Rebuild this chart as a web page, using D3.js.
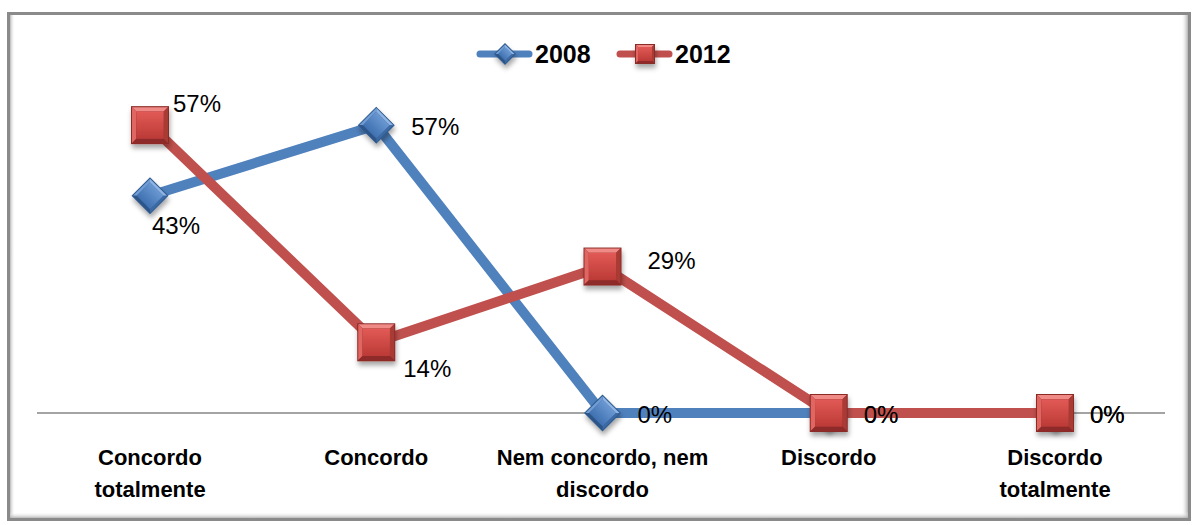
<!DOCTYPE html>
<html>
<head>
<meta charset="utf-8">
<script src="https://cdn.jsdelivr.net/npm/d3@7"></script>
<style>
  html, body { margin: 0; padding: 0; background: #fff; }
  svg { display: block; }
  text { font-family: "Liberation Sans", Arial, sans-serif; }
</style>
</head>
<body>
<svg id="chart" width="1194" height="525"></svg>
<script>
// Survey answers (share of respondents) per year
const categories = [
  ["Concordo", "totalmente"],
  ["Concordo"],
  ["Nem concordo, nem", "discordo"],
  ["Discordo"],
  ["Discordo", "totalmente"]
];
const seriesNames = ["2008", "2012"];
const values2008 = [43, 57, 0, 0, 0];
const values2012 = [57, 14, 29, 0, 0];
// where each value label sits relative to its marker
const labelPos2008 = ["below", "right", "right", "right", "right"];
const labelPos2012 = ["aboveRight", "belowRight", "upperRight", "right", "right"];

const W = 1194, H = 525;
const svg = d3.select("#chart");
const defs = svg.append("defs");

// ---------- frame with soft inner shadow ----------
function linGrad(id, x1, y1, x2, y2, stops) {
  const g = defs.append("linearGradient").attr("id", id)
    .attr("x1", x1).attr("y1", y1).attr("x2", x2).attr("y2", y2);
  stops.forEach(s => g.append("stop").attr("offset", s[0]).attr("stop-color", s[1]).attr("stop-opacity", s[2] == null ? 1 : s[2]));
}
linGrad("shL", 0, 0, 1, 0, [[0, "#9a9a9a"], [1, "#ffffff", 0]]);
linGrad("shR", 1, 0, 0, 0, [[0, "#9a9a9a"], [1, "#ffffff", 0]]);
linGrad("shB", 0, 1, 0, 0, [[0, "#a0a0a0"], [1, "#ffffff", 0]]);

const fx0 = 7, fy0 = 12, fx1 = 1191, fy1 = 521;
svg.append("rect").attr("x", fx0 + 2).attr("y", fy0 + 2).attr("width", 6).attr("height", fy1 - fy0 - 4).attr("fill", "url(#shL)");
svg.append("rect").attr("x", fx1 - 10).attr("y", fy0 + 2).attr("width", 8).attr("height", fy1 - fy0 - 4).attr("fill", "url(#shR)");
svg.append("rect").attr("x", fx0 + 2).attr("y", fy1 - 9).attr("width", fx1 - fx0 - 4).attr("height", 7).attr("fill", "url(#shB)");
svg.append("rect").attr("x", fx0 + 1.5).attr("y", fy0 + 1.5)
  .attr("width", fx1 - fx0 - 3).attr("height", fy1 - fy0 - 3)
  .attr("fill", "none").attr("stroke", "#8a8a8a").attr("stroke-width", 3);

// ---------- scales ----------
const x = d3.scalePoint().domain(d3.range(categories.length)).range([150, 1055]);
const y = d3.scaleLinear().domain([0, 60]).range([413, 110]);

// ---------- category axis ----------
svg.append("line").attr("x1", 37).attr("x2", 1165).attr("y1", y(0)).attr("y2", y(0))
  .attr("stroke", "#868686").attr("stroke-width", 1.5);

const catG = svg.append("g");
categories.forEach((lines, i) => {
  const t = catG.append("text").attr("x", x(i)).attr("y", 465)
    .attr("text-anchor", "middle").attr("font-size", 22).attr("font-weight", "bold").attr("fill", "#000");
  lines.forEach((ln, j) => t.append("tspan").attr("x", x(i)).attr("dy", j === 0 ? 0 : 32).text(ln));
});

// ---------- marker styles ----------
const shadow = defs.append("filter").attr("id", "mshadow")
  .attr("x", "-50%").attr("y", "-50%").attr("width", "200%").attr("height", "200%");
shadow.append("feDropShadow").attr("dx", 1).attr("dy", 4).attr("stdDeviation", 2.5)
  .attr("flood-color", "#000").attr("flood-opacity", 0.35);

const palettes = {
  "2008": { line: "#4F81BD", outer: "#2e5a8e", top: "#8fb4e3", left: "#6f9bd4", right: "#3c6aa4", bottom: "#2d5587", c1: "#6a98d2", c2: "#3f70b0" },
  "2012": { line: "#C0504D", outer: "#8c2a27", top: "#ef8a86", left: "#e06662", right: "#a93a36", bottom: "#8f2c29", c1: "#e25a56", c2: "#bb3a36" }
};
Object.entries(palettes).forEach(([k, p]) => {
  linGrad("face" + k, 0, 0, 0, 1, [[0, p.c1], [1, p.c2]]);
});

// bevelled square centred at origin, half-size h
function bevelSquare(g, h, p, key) {
  const b = Math.max(3, h * 0.28);
  const pts = (a) => a.map(d => d.join(",")).join(" ");
  g.append("rect").attr("x", -h).attr("y", -h).attr("width", 2 * h).attr("height", 2 * h)
    .attr("fill", p.outer);
  const o = h - 1, i = h - b;
  g.append("polygon").attr("points", pts([[-o, -o], [o, -o], [i, -i], [-i, -i]])).attr("fill", p.top);
  g.append("polygon").attr("points", pts([[-o, -o], [-i, -i], [-i, i], [-o, o]])).attr("fill", p.left);
  g.append("polygon").attr("points", pts([[o, -o], [o, o], [i, i], [i, -i]])).attr("fill", p.right);
  g.append("polygon").attr("points", pts([[-o, o], [-i, i], [i, i], [o, o]])).attr("fill", p.bottom);
  g.append("rect").attr("x", -i).attr("y", -i).attr("width", 2 * i).attr("height", 2 * i)
    .attr("fill", "url(#face" + key + ")");
}

function drawMarker(g, kind, size, key) {
  const p = palettes[key];
  if (kind === "square") {
    bevelSquare(g, size / 2, p, key);
  } else {
    const inner = g.append("g").attr("transform", "rotate(45)");
    bevelSquare(inner, size / 2 / Math.SQRT2, p, key);
  }
}

// ---------- series ----------
const series = [
  { name: seriesNames[0], values: values2008, pos: labelPos2008, marker: "diamond", size: 37 },
  { name: seriesNames[1], values: values2012, pos: labelPos2012, marker: "square", size: 38 }
];

const line = d3.line().x((d, i) => x(i)).y(d => y(d));
const labelOffset = {
  right: [35, 10],
  upperRight: [45, 2],
  below: [2, 38],
  aboveRight: [23, -13],
  belowRight: [27, 35]
};

series.forEach(s => {
  const p = palettes[s.name];
  const g = svg.append("g");
  g.append("path").datum(s.values).attr("d", line)
    .attr("fill", "none").attr("stroke", p.line).attr("stroke-width", 10).attr("stroke-linejoin", "round");
  s.values.forEach((v, i) => {
    const m = g.append("g").attr("transform", `translate(${x(i)},${y(v)})`).attr("filter", "url(#mshadow)");
    drawMarker(m, s.marker, s.size, s.name);
  });
  s.values.forEach((v, i) => {
    const off = labelOffset[s.pos[i]];
    g.append("text").attr("x", x(i) + off[0]).attr("y", y(v) + off[1])
      .attr("font-size", 24).attr("fill", "#000").text(v + "%");
  });
});

// ---------- legend ----------
const legend = svg.append("g");
const legendItems = [
  { name: seriesNames[0], marker: "diamond", x0: 477, size: 22 },
  { name: seriesNames[1], marker: "square", x0: 617, size: 20 }
];
legendItems.forEach(it => {
  const p = palettes[it.name];
  legend.append("line").attr("x1", it.x0 + 3).attr("x2", it.x0 + 52).attr("y1", 54).attr("y2", 54)
    .attr("stroke", p.line).attr("stroke-width", 7).attr("stroke-linecap", "round");
  const m = legend.append("g").attr("transform", `translate(${it.x0 + 28},54)`).attr("filter", "url(#mshadow)");
  drawMarker(m, it.marker, it.size, it.name);
  legend.append("text").attr("x", it.x0 + 58).attr("y", 63)
    .attr("font-size", 25).attr("font-weight", "bold").attr("fill", "#000").text(it.name);
});
</script>
</body>
</html>
